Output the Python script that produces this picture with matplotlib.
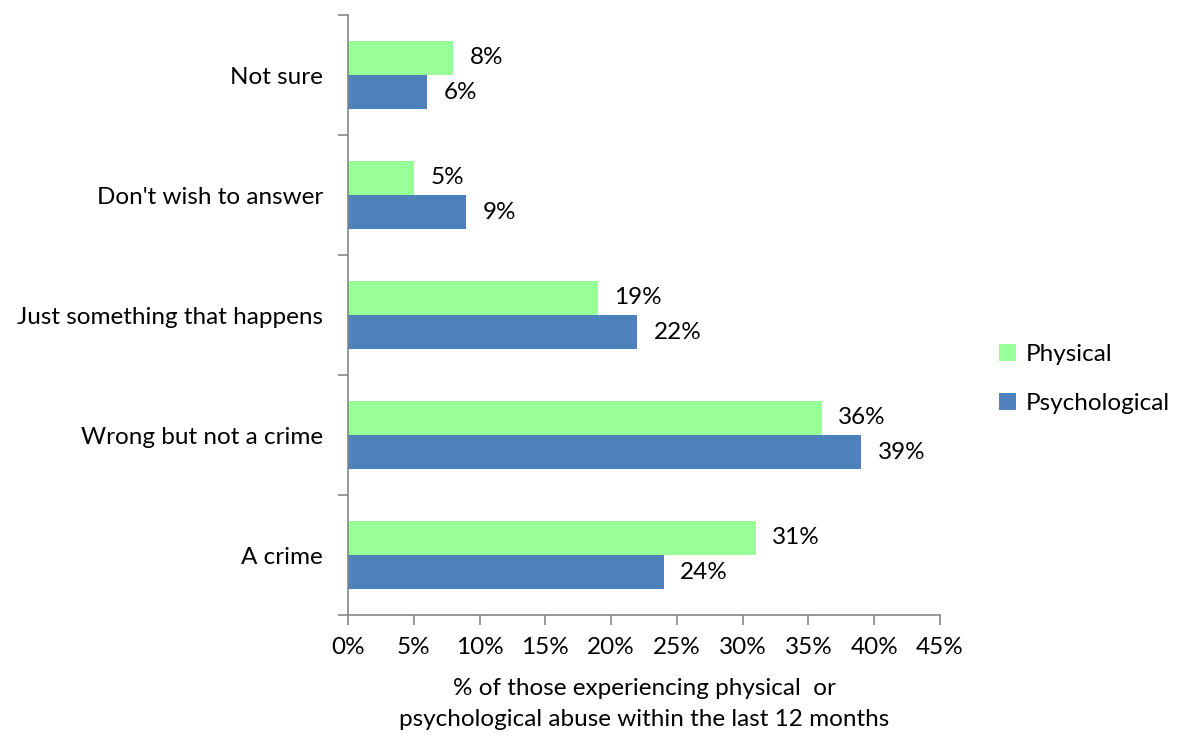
import matplotlib
matplotlib.use("Agg")
import matplotlib.pyplot as plt
import numpy as np
from matplotlib.ticker import FixedLocator

plt.rcParams['font.family'] = ['Lato', 'DejaVu Sans']

categories = ["A crime", "Wrong but not a crime", "Just something that happens",
              "Don't wish to answer", "Not sure"]
physical = [31, 36, 19, 5, 8]
psychological = [24, 39, 22, 9, 6]
xticks = [0, 5, 10, 15, 20, 25, 30, 35, 40, 45]

green = "#99FF99"
blue = "#4F81BD"
axis_col = "#868686"
fs = 17.5

fig = plt.figure(figsize=(11.78, 7.37), dpi=100)
ax = fig.add_axes([348/1178, 1-615/737, (940-348)/1178, (615-15)/737])

y = np.arange(len(categories))
h = 0.285
ax.barh(y + h/2, physical, height=h, color=green, label="Physical")
ax.barh(y - h/2, psychological, height=h, color=blue, label="Psychological")

for yi, v in zip(y, physical):
    ax.text(v + 1.25, yi + h/2, f"{v}%", va="center", ha="left", fontsize=fs)
for yi, v in zip(y, psychological):
    ax.text(v + 1.25, yi - h/2, f"{v}%", va="center", ha="left", fontsize=fs)

ax.set_xlim(0, 45)
ax.set_ylim(-0.5, len(categories) - 0.5)
ax.set_xticks(xticks)
ax.set_xticklabels([f"{t}%" for t in xticks], fontsize=fs)
ax.set_yticks(y)
ax.set_yticklabels(categories, fontsize=fs)
ax.tick_params(axis='y', which='major', length=0, pad=18)
ax.yaxis.set_minor_locator(FixedLocator(np.arange(-0.5, len(categories), 1.0)))
ax.tick_params(axis='y', which='minor', length=7, color=axis_col, width=1.2)
ax.tick_params(axis='x', which='major', length=7, color=axis_col, width=1.2, pad=9)

for s in ["top", "right"]:
    ax.spines[s].set_visible(False)
for s in ["left", "bottom"]:
    ax.spines[s].set_color(axis_col)
    ax.spines[s].set_linewidth(1.2)

ax.set_xlabel("% of those experiencing physical  or\npsychological abuse within the last 12 months",
              fontsize=fs, labelpad=14, linespacing=1.6)

ax.legend(loc="center left", bbox_to_anchor=(1.10, 0.393), frameon=False, fontsize=fs,
          handlelength=0.7, handleheight=0.7, labelspacing=1.15, handletextpad=0.4,
          borderpad=0, borderaxespad=0)

fig.savefig("out.png", dpi=100)
